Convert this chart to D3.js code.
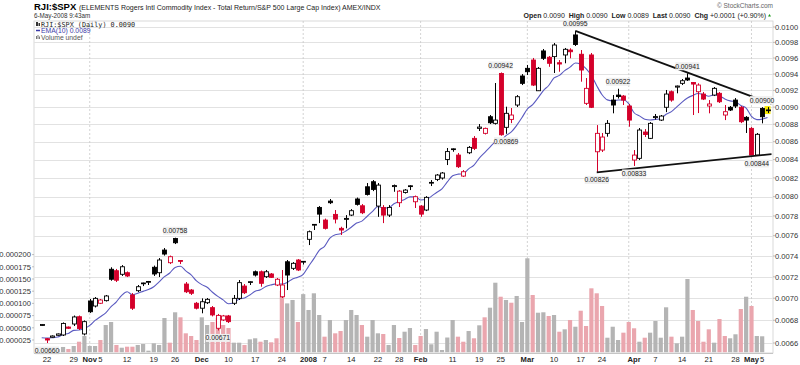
<!DOCTYPE html>
<html><head><meta charset="utf-8">
<script src="https://cdn.jsdelivr.net/npm/d3@7"></script>
<style>
body{margin:0;background:#fff;}
svg{display:block;font-family:"Liberation Sans",Arial,sans-serif;}
</style></head><body>
<svg id="c" width="800" height="365"></svg>
<script>
const dates = ["2007-10-19","2007-10-22","2007-10-23","2007-10-24","2007-10-25","2007-10-26","2007-10-29","2007-10-30","2007-10-31",
"2007-11-01","2007-11-02","2007-11-05","2007-11-06","2007-11-07","2007-11-08","2007-11-09","2007-11-12","2007-11-13","2007-11-14","2007-11-15","2007-11-16","2007-11-19","2007-11-20","2007-11-21","2007-11-23","2007-11-26","2007-11-27","2007-11-28","2007-11-29","2007-11-30",
"2007-12-03","2007-12-04","2007-12-05","2007-12-06","2007-12-07","2007-12-10","2007-12-11","2007-12-12","2007-12-13","2007-12-14","2007-12-17","2007-12-18","2007-12-19","2007-12-20","2007-12-21","2007-12-24","2007-12-26","2007-12-27","2007-12-28","2007-12-31",
"2008-01-02","2008-01-03","2008-01-04","2008-01-07","2008-01-08","2008-01-09","2008-01-10","2008-01-11","2008-01-14","2008-01-15","2008-01-16","2008-01-17","2008-01-18","2008-01-22","2008-01-23","2008-01-24","2008-01-25","2008-01-28","2008-01-29","2008-01-30","2008-01-31",
"2008-02-01","2008-02-04","2008-02-05","2008-02-06","2008-02-07","2008-02-08","2008-02-11","2008-02-12","2008-02-13","2008-02-14","2008-02-15","2008-02-19","2008-02-20","2008-02-21","2008-02-22","2008-02-25","2008-02-26","2008-02-27","2008-02-28","2008-02-29",
"2008-03-03","2008-03-04","2008-03-05","2008-03-06","2008-03-07","2008-03-10","2008-03-11","2008-03-12","2008-03-13","2008-03-14","2008-03-17","2008-03-18","2008-03-19","2008-03-20","2008-03-24","2008-03-25","2008-03-26","2008-03-27","2008-03-28","2008-03-31",
"2008-04-01","2008-04-02","2008-04-03","2008-04-04","2008-04-07","2008-04-08","2008-04-09","2008-04-10","2008-04-11","2008-04-14","2008-04-15","2008-04-16","2008-04-17","2008-04-18","2008-04-21","2008-04-22","2008-04-23","2008-04-24","2008-04-25","2008-04-28","2008-04-29","2008-04-30",
"2008-05-01","2008-05-02","2008-05-05","2008-05-06"];

const open = [.006754,.006637,.006650,.006667,.006670,.006740,.006767,.006832,.006679,
.006975,.006929,.006954,.006978,.007272,.007258,.007224,.007239,.007030,.007070,.007137,.007149,.007291,.007239,.007458,.007335,.007572,.007356,.007132,.007076,.006954,
.006909,.006959,.006914,.006729,.006803,.006839,.006954,.006999,.007113,.007147,.007248,.007248,.007201,.007227,.007123,.007014,.007344,.007281,.007361,.007341,
.007564,.007707,.007888,.007758,.007954,.007816,.007674,.007765,.007809,.007976,.007905,.008105,.008159,.007902,.007888,.007809,.008107,.007937,.008045,.008107,.007947,
.007902,.007861,.008145,.008184,.008199,.008401,.008514,.008450,.008220,.008476,.008638,.008752,.008695,.008887,.008810,.009407,.008764,.008856,.009025,.009376,
.009471,.009575,.009196,.009690,.009610,.009618,.009541,.009639,.009702,.009896,.009648,.009045,.009639,.008487,.008506,.008695,.009084,.009144,.009132,.009013,
.008395,.008414,.008710,.008638,.008877,.008848,.008998,.009184,.009240,.009286,.009351,.009296,.009184,.009156,.009013,.009144,.009165,.008907,.008998,.009084,.008998,.008880,
.008752,.008450,.008984,.008960];

const high = [.006767,.006643,.006666,.006683,.006781,.006745,.006843,.006843,.006799,
.006993,.007011,.006993,.007030,.007291,.007275,.007312,.007251,.007048,.007123,.007145,.007161,.007307,.007380,.007478,.007404,.007580,.007361,.007151,.007085,.006966,
.006999,.007002,.006929,.006857,.006848,.006848,.007030,.007170,.007132,.007158,.007260,.007260,.007265,.007236,.007189,.007265,.007361,.007341,.007370,.007351,
.007652,.007717,.007902,.007773,.007976,.007861,.007690,.007809,.007871,.007991,.007923,.008145,.008177,.008145,.007912,.007912,.008129,.008070,.008081,.008123,.008012,
.007912,.008006,.008177,.008242,.008264,.008529,.008525,.008473,.008285,.008551,.008664,.008802,.008761,.008907,.009290,.009420,.009005,.008989,.009144,.009400,
.009513,.009601,.009488,.009715,.009626,.009792,.009575,.009728,.009724,.009950,.009702,.009351,.009664,.008790,.008699,.008848,.009144,.009220,.009144,.009037,
.008506,.008756,.008744,.008825,.008919,.008907,.009205,.009199,.009259,.009339,.009410,.009302,.009286,.009181,.009084,.009241,.009181,.009025,.009013,.009108,.009013,.008895,
.008767,.008699,.009000,.009000];

const low = [.006749,.006600,.006646,.006663,.006661,.006723,.006749,.006714,.006666,
.006866,.006916,.006947,.006970,.007163,.007151,.007208,.007198,.006893,.007057,.007113,.007123,.007208,.007198,.007404,.007322,.007517,.007322,.007048,.007030,.006898,
.006863,.006947,.006835,.006710,.006794,.006776,.006938,.006984,.007039,.007123,.007203,.007107,.007189,.007189,.007113,.007002,.007076,.007265,.007255,.007317,
.007507,.007657,.007727,.007662,.007923,.007724,.007607,.007674,.007799,.007907,.007819,.008012,.008059,.007791,.007727,.007789,.008052,.007892,.008033,.008070,.007882,
.007791,.007850,.008113,.008166,.008182,.008340,.008487,.008308,.008210,.008461,.008506,.008722,.008682,.008802,.008796,.008668,.008690,.008813,.009001,.009265,
.009388,.009253,.009193,.009575,.009490,.009413,.009429,.009534,.009597,.009753,.009306,.009025,.008989,.008260,.008484,.008657,.008927,.009102,.009025,.008771,
.008330,.008395,.008653,.008630,.008854,.008837,.008941,.009064,.009165,.009265,.009315,.008907,.008930,.009084,.008927,.009132,.009049,.008848,.008954,.008989,.008813,.008699,
.008450,.008440,.008810,.008930];

const close = [.006763,.006626,.006661,.006679,.006772,.006729,.006830,.006727,.006788,
.006877,.006999,.006984,.007021,.007177,.007168,.007296,.007208,.006909,.007107,.007142,.007156,.007227,.007361,.007419,.007393,.007530,.007348,.007060,.007046,.006909,
.006968,.006990,.006848,.006844,.006839,.006788,.006999,.007145,.007051,.007154,.007217,.007139,.007248,.007195,.007177,.007123,.007217,.007329,.007265,.007348,
.007640,.007714,.007819,.007674,.007937,.007768,.007657,.007775,.007854,.007920,.007833,.008024,.008077,.008123,.007809,.007888,.008118,.008059,.008070,.008116,.008000,
.007819,.007993,.008152,.008231,.008253,.008489,.008520,.008322,.008267,.008536,.008525,.008767,.008752,.008817,.008848,.008679,.008927,.008907,.009124,.009286,
.009429,.009265,.009471,.009597,.009534,.009766,.009525,.009711,.009680,.009772,.009450,.009225,.008998,.008695,.008653,.008810,.009025,.009126,.009084,.008848,
.008450,.008733,.008682,.008810,.008889,.008895,.009156,.009084,.009253,.009318,.009327,.009277,.009265,.009096,.009037,.009225,.009064,.008946,.008966,.009013,.008829,.008848,
.008450,.008684,.008887,.008967];

const volume = [6.6e-6,10.7e-6,4.5e-6,6.6e-6,10.7e-6,6.6e-6,12.7e-6,21.5e-6,33.2e-6,
12.7e-6,12.7e-6,25e-6,55.7e-6,61.9e-6,14.8e-6,9.2e-6,11.3e-6,11.3e-6,14.8e-6,16.8e-6,3.1e-6,18.2e-6,14.8e-6,70.1e-6,19.5e-6,81.8e-6,71.5e-6,38.7e-6,33.2e-6,25e-6,
71.5e-6,55.7e-6,61.9e-6,70.1e-6,55.7e-6,49.6e-6,19.5e-6,19.5e-6,14.8e-6,26.4e-6,28.5e-6,21.5e-6,25e-6,20.3e-6,28.5e-6,126e-6,100e-6,107e-6,61.9e-6,119e-6,
86.5e-6,120.7e-6,76.2e-6,31.8e-6,66e-6,38.7e-6,43.4e-6,66e-6,86.5e-6,76.2e-6,55.7e-6,31.8e-6,66e-6,38.7e-6,37.3e-6,14.8e-6,55.7e-6,29.1e-6,42e-6,49.6e-6,14.8e-6,
33.2e-6,47.5e-6,16.2e-6,42e-6,4.5e-6,30.1e-6,66e-6,31.8e-6,21.5e-6,43.4e-6,28.5e-6,55.1e-6,71.5e-6,91.2e-6,142.4e-6,113.7e-6,107e-6,101.4e-6,115.2e-6,61.9e-6,
192.4e-6,117.2e-6,80.9e-6,81.8e-6,74.2e-6,76.2e-6,42e-6,46.9e-6,66e-6,52.2e-6,85e-6,53.7e-6,130.9e-6,120.7e-6,94.7e-6,29.7e-6,52.2e-6,25e-6,40e-6,61.9e-6,
49e-6,21.5e-6,29.7e-6,40e-6,63.9e-6,29.7e-6,92e-6,31.8e-6,18.2e-6,31.8e-6,150e-6,86.5e-6,63.9e-6,21.5e-6,46.9e-6,19.5e-6,68e-6,33.2e-6,28.5e-6,36.7e-6,88.5e-6,113.7e-6,
94.7e-6,33.2e-6,32.6e-6,0];

const emaPrior = 0.00662;
const priceTicks = [0.0066,0.0068,0.0070,0.0072,0.0074,0.0076,0.0078,0.0080,0.0082,0.0084,0.0086,0.0088,0.0090,0.0092,0.0094,0.0096,0.0098,0.0100];
const volTicks = [0.000025,0.000050,0.000075,0.000100,0.000125,0.000150,0.000175,0.000200];
const xLabelDates = ["2007-10-22","2007-10-29","2007-11-01","2007-11-05","2007-11-12","2007-11-19","2007-11-26","2007-12-03","2007-12-10","2007-12-17","2007-12-24","2008-01-02","2008-01-07","2008-01-14","2008-01-22","2008-01-28","2008-02-01","2008-02-11","2008-02-19","2008-02-25","2008-03-03","2008-03-10","2008-03-17","2008-03-24","2008-04-01","2008-04-07","2008-04-14","2008-04-21","2008-04-28","2008-05-01","2008-05-05"];
const xLabelTexts = ["22","29","Nov","5","12","19","26","Dec","10","17","24","2008","7","14","22","28","Feb","11","19","25","Mar","10","17","24","Apr","7","14","21","28","May","5"];
const gridDates = ["2007-11-01","2007-12-31","2008-02-01","2008-03-03","2008-03-31","2008-05-01"];
const annDates = ["2007-10-22","2007-11-26","2007-12-06","2008-02-25","2008-02-26","2008-03-14","2008-03-20","2008-03-27","2008-04-01","2008-04-15","2008-05-02","2008-05-05"];
const annValues = [0.00660,0.00758,0.00671,0.00942,0.00869,0.00995,0.00826,0.00922,0.00833,0.00941,0.00844,0.00900];
const annSides = ["below","above","below","above","below","above","below","above","below","above","below","above"];
const trendStartDates = ["2008-03-14","2008-03-20"];
const trendStartValues = [0.00995,0.00826];
const trendEndDates = ["2008-05-06","2008-05-06"];
const trendEndValues = [0.00904,0.00846];

const svg = d3.select("#c");
const L = 34, R = 773, T = 21, B = 353;

const x = d3.scalePoint().domain(dates).range([41.7, 767.5]);
const y = d3.scaleLog().domain([0.0066, 0.0100]).range([343, 27]);
const yv = d3.scaleLinear().domain([0, 0.0002]).range([352.2, 254.6]);

const red = "#d4002a", blk = "#000";
const isMonth = s => isNaN(+s) || s === "2008";

svg.append("rect").attr("x",L).attr("y",T).attr("width",R-L).attr("height",B-T).attr("fill","#fff").attr("stroke","#d0d0d0").attr("stroke-width",0.8);

svg.append("g").selectAll("line").data(priceTicks).join("line")
  .attr("x1",L).attr("x2",R).attr("y1",d=>Math.round(y(d))+0.5).attr("y2",d=>Math.round(y(d))+0.5)
  .attr("stroke","#e2e2e2").attr("stroke-width",1.2);
svg.append("g").selectAll("line").data(gridDates).join("line")
  .attr("x1",d=>x(d)).attr("x2",d=>x(d)).attr("y1",T).attr("y2",B)
  .attr("stroke","#c8c8c8").attr("stroke-width",0.8).attr("stroke-dasharray","2,2");

svg.append("g").selectAll("text").data(priceTicks).join("text")
  .attr("x",775).attr("y",d=>y(d)+2.7).text(d=>d3.format(".4f")(d))
  .attr("font-size","7.6px").attr("fill","#333");
svg.append("g").selectAll("line").data(priceTicks).join("line")
  .attr("x1",R).attr("x2",R+2).attr("y1",d=>y(d)).attr("y2",d=>y(d)).attr("stroke","#999").attr("stroke-width",0.6);
svg.append("g").selectAll("text").data(volTicks).join("text")
  .attr("x",31).attr("y",d=>yv(d)+2.7).attr("text-anchor","end").text(d=>d3.format(".6f")(d))
  .attr("font-size","7.6px").attr("fill","#333");
svg.append("g").selectAll("line").data(volTicks).join("line")
  .attr("x1",L-2).attr("x2",L).attr("y1",d=>yv(d)).attr("y2",d=>yv(d)).attr("stroke","#999").attr("stroke-width",0.6);

const data = dates.map((d,i)=>({d,i,o:open[i],h:high[i],l:low[i],c:close[i],v:volume[i],
  up: i===0 ? true : close[i] >= close[i-1]}));

const plot = svg.append("g");
plot.selectAll("rect.vol").data(data.filter(e=>e.v>0)).join("rect")
  .attr("x",e=>x(e.d)-2.1).attr("width",4.2)
  .attr("y",e=>yv(e.v)).attr("height",e=>yv(0)-yv(e.v))
  .attr("fill",e=>e.up?"#b4b4b4":"#eaa6ae");

const k = 2/11; let prev = emaPrior;
const ema = close.map(c=>{prev = prev + k*(c-prev); return prev;});
plot.append("path").datum(ema)
  .attr("d", d3.line().x((v,i)=>x(dates[i])).y(v=>y(v)).curve(d3.curveMonotoneX))
  .attr("fill","none").attr("stroke","#5a5ac0").attr("stroke-width",1.1);

const last = data[data.length-1];
plot.append("rect").attr("x",x(last.d)-3).attr("width",6)
  .attr("y",y(last.h)-1).attr("height",y(last.l)-y(last.h)+2).attr("fill","#f5e600");

const cg = plot.append("g");
data.forEach(e=>{
  const col = e.up ? blk : red;
  const cx = Math.round(x(e.d))+0.5;
  cg.append("line").attr("x1",cx).attr("x2",cx).attr("y1",y(e.h)).attr("y2",y(e.l)).attr("stroke",col).attr("stroke-width",1);
  const top = y(Math.max(e.o,e.c)), bot = y(Math.min(e.o,e.c));
  const hollow = e.c > e.o;
  cg.append("rect").attr("x",cx-2).attr("width",4)
    .attr("y",top).attr("height",Math.max(bot-top,0.8))
    .attr("fill",hollow?"#fff":col).attr("stroke",col).attr("stroke-width",0.9);
});

trendStartDates.forEach((sd,i)=>{
  plot.append("line").attr("x1",x(sd)).attr("y1",y(trendStartValues[i]))
    .attr("x2",x(trendEndDates[i])+4).attr("y2",y(trendEndValues[i]))
    .attr("stroke","#111").attr("stroke-width",1.8);
});

const ag = plot.append("g");
annDates.forEach((d,i)=>{
  const v = annValues[i];
  const cy = annSides[i]==="above" ? y(v)-7 : y(v)+7.5;
  let cx = x(d);
  const w = 24, h = 8;
  cx = Math.max(cx, 25 + w/2 - 1);
  cx = Math.min(cx, R - w/2 + 1);
  ag.append("rect").attr("x",cx-w/2).attr("y",cy-h/2).attr("width",w).attr("height",h).attr("fill","#efefef");
  ag.append("text").attr("x",cx).attr("y",cy+2.5).attr("text-anchor","middle").attr("font-size","6.8px").attr("fill","#222").text(d3.format(".5f")(v));
});

svg.append("g").selectAll("text").data(xLabelDates).join("text")
  .attr("x",d=>x(d)).attr("y",362).attr("text-anchor","middle")
  .attr("font-size","7.6px").attr("fill","#222")
  .attr("font-weight",(d,i)=>isMonth(xLabelTexts[i]) ? "bold":"normal")
  .text((d,i)=>xLabelTexts[i]);
svg.append("line").attr("x1",L).attr("x2",R).attr("y1",B+0.5).attr("y2",B+0.5).attr("stroke","#bbb").attr("stroke-width",0.8);

const t = svg.append("text").attr("x",34).attr("y",10);
t.append("tspan").attr("font-weight","bold").attr("font-size","9.5px").attr("fill","#000").text("RJI:$SPX ");
t.append("tspan").attr("font-size","7px").attr("fill","#222").text("(ELEMENTS Rogers Intl Commodity Index - Total Return/S&P 500 Large Cap Index) AMEX/INDX");
svg.append("text").attr("x",34).attr("y",18).attr("font-size","6.3px").attr("fill","#333").text("6-May-2008 9:43am");
svg.append("text").attr("x",773).attr("y",8).attr("text-anchor","end").attr("font-size","6.5px").attr("fill","#666").text("© StockCharts.com");
const q = svg.append("text").attr("x",766).attr("y",17.5).attr("text-anchor","end").attr("font-size","7px").attr("fill","#222");
[["Open"," 0.0090  "],["High"," 0.0090  "],["Low"," 0.0089  "],["Last"," 0.0090  "],["Chg"," +0.0001 (+0.90%)"]].forEach(p=>{
  q.append("tspan").attr("font-weight","bold").text(p[0]);
  q.append("tspan").attr("xml:space","preserve").text(p[1]);
});
svg.append("path").attr("d","M768,16.5 L771,16.5 L769.5,14 Z").attr("fill","#1a9a1a");

svg.append("rect").attr("x",36).attr("y",22).attr("width",2).attr("height",4).attr("fill","#333");
svg.append("rect").attr("x",38.5).attr("y",23).attr("width",1.5).attr("height",3).attr("fill","#333");
svg.append("text").attr("x",41).attr("y",26.5).attr("font-family","'DejaVu Sans Mono',monospace").attr("font-size","6.8px").attr("fill","#222").text("RJI:$SPX (Daily) 0.0090");
svg.append("line").attr("x1",36).attr("x2",40).attr("y1",30.5).attr("y2",30.5).attr("stroke","#3a3aa8").attr("stroke-width",1.5);
svg.append("text").attr("x",41).attr("y",33).attr("font-size","6.8px").attr("fill","#3a3aa8").text("EMA(10) 0.0089");
svg.append("rect").attr("x",36).attr("y",36).attr("width",1).attr("height",3).attr("fill","#777");
svg.append("rect").attr("x",37.5).attr("y",35).attr("width",1).attr("height",4).attr("fill","#777");
svg.append("rect").attr("x",39).attr("y",36.5).attr("width",1).attr("height",2.5).attr("fill","#777");
svg.append("text").attr("x",41).attr("y",39.5).attr("font-size","6.8px").attr("fill","#555").text("Volume undef");
</script>
</body></html>
